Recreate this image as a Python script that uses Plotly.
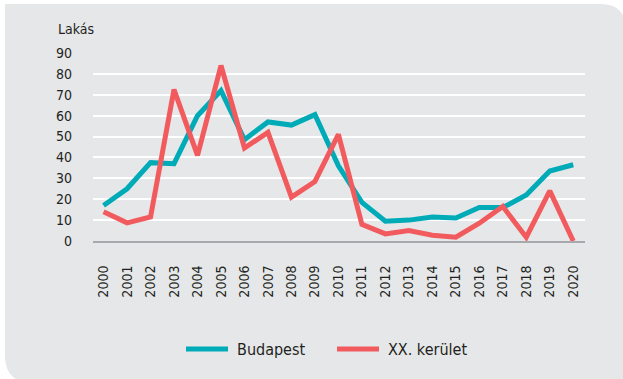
import plotly.graph_objects as go

years = list(range(2000, 2021))
budapest = [17, 25, 37.5, 37, 60, 72, 48.5, 57, 55.5, 60.5, 36, 18.5,
            9.5, 10, 11.5, 11, 16, 16, 22, 33.5, 36.5]
xx_kerulet = [14, 8.7, 11.5, 72.5, 41, 84, 44.5, 52, 21, 28.5, 51, 8,
              3.4, 5, 2.8, 1.8, 8.5, 16.5, 1.8, 24, 0]
y_ticks = list(range(0, 100, 10))

TEAL = "#00abb8"
RED = "#f15b5e"
PANEL = "#e6e7e9"
TEXT = "#231f20"
FONT = "DejaVu Sans Condensed, Liberation Sans Narrow, sans-serif"

W, H = 623, 379
L, R, T, B = 93, 38, 53, 138
PW, PH = W - L - R, H - T - B


def px(x):
    return (x - L) / PW


def py(y):
    return (H - B - y) / PH


fig = go.Figure()
fig.add_trace(go.Scatter(x=years, y=budapest, mode="lines", name="Budapest",
                         line=dict(color=TEAL, width=5), cliponaxis=False))
fig.add_trace(go.Scatter(x=years, y=xx_kerulet, mode="lines", name="XX. kerület",
                         line=dict(color=RED, width=5), cliponaxis=False))

# background panel with rounded top-right and bottom-left corners
panel = (f"M {px(5)},{py(4)} L {px(600)},{py(4)} "
         f"Q {px(626)},{py(4)} {px(626)},{py(30)} "
         f"L {px(626)},{py(383)} L {px(33)},{py(383)} "
         f"Q {px(5)},{py(383)} {px(5)},{py(355)} Z")
shapes = [dict(type="path", path=panel, xref="paper", yref="paper",
               fillcolor=PANEL, line=dict(width=0), layer="below")]

# legend drawn by hand
legend_items = [("Budapest", TEAL, 186), ("XX. kerület", RED, 337)]
annotations = [dict(text="Lakás", x=px(56), y=py(29), xref="paper", yref="paper",
                    xanchor="left", yanchor="middle", showarrow=False,
                    font=dict(family=FONT, size=14, color=TEXT))]
for name, color, x0 in legend_items:
    shapes.append(dict(type="line", xref="paper", yref="paper",
                       x0=px(x0), x1=px(x0 + 42), y0=py(349), y1=py(349),
                       line=dict(color=color, width=5)))
    annotations.append(dict(text=name, x=px(x0 + 49), y=py(349),
                            xref="paper", yref="paper", xanchor="left",
                            yanchor="middle", showarrow=False,
                            font=dict(family=FONT, size=16, color=TEXT)))

fig.update_layout(
    width=W, height=H,
    margin=dict(l=L, r=R, t=T, b=B),
    paper_bgcolor="white",
    plot_bgcolor="rgba(0,0,0,0)",
    showlegend=False,
    shapes=shapes,
    annotations=annotations,
    font=dict(family=FONT, size=14, color=TEXT),
    xaxis=dict(range=[1999.55, 2020.5], tickmode="array", tickvals=years,
               ticktext=[str(y) for y in years], tickangle=-90,
               showgrid=False, zeroline=False, showline=True,
               linecolor="#a7a9ac", linewidth=2, ticks="",
               ticklabelstandoff=17, fixedrange=True),
    yaxis=dict(range=[0, 90], tickmode="array", tickvals=y_ticks,
               showgrid=True, gridcolor="white", gridwidth=1.5,
               zeroline=False, showline=False, ticks="",
               ticklabelstandoff=20, fixedrange=True),
)

fig.write_html("out.html")
